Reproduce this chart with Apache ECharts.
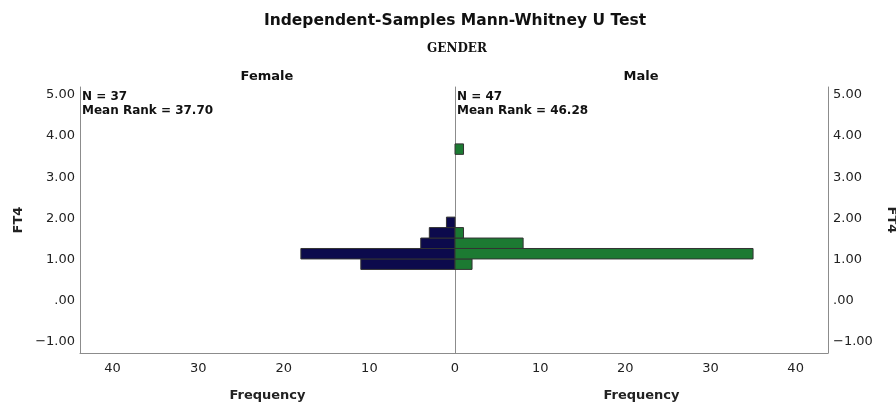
<!DOCTYPE html>
<html>
<head>
<meta charset="utf-8">
<script src="https://cdn.jsdelivr.net/npm/echarts@6/dist/echarts.min.js"></script>
<style>
  html, body { margin: 0; padding: 0; background: #fff; }
  #chart { width: 896px; height: 403px; }
</style>
</head>
<body>
<div id="chart"></div>
<script>
// histogram bins of FT4 (lower edges, last value is the upper edge of the last bin)
var binEdges = [0.76, 1.014, 1.268, 1.522, 1.776, 2.03, 2.284, 2.538, 2.792, 3.046, 3.3, 3.554, 3.808];
var femaleCounts = [11, 18, 4, 3, 1, 0, 0, 0, 0, 0, 0, 0];
var maleCounts = [2, 35, 8, 1, 0, 0, 0, 0, 0, 0, 0, 1];
var yTicks = [-1, 0, 1, 2, 3, 4, 5];
var xTicks = [0, 10, 20, 30, 40];
var groups = ['Female', 'Male'];
var groupStats = [
  ['N = 37', 'Mean Rank = 37.70'],
  ['N = 47', 'Mean Rank = 46.28']
];

var font = 'DejaVu Sans';
var axisGray = '#8c8c8c';

function binData(counts) {
  var out = [];
  counts.forEach(function (c, i) {
    if (c > 0) out.push([binEdges[i], binEdges[i + 1], c]);
  });
  return out;
}

function fmtY(v) {
  if (v === 0) return '.00';
  if (v < 0) return '\u2212' + Math.abs(v).toFixed(2);
  return v.toFixed(2);
}

function renderBar(color) {
  return function (params, api) {
    var p0 = api.coord([0, api.value(0)]);
    var p1 = api.coord([api.value(2), api.value(1)]);
    return {
      type: 'rect',
      shape: {
        x: Math.min(p0[0], p1[0]),
        y: Math.min(p0[1], p1[1]),
        width: Math.abs(p1[0] - p0[0]),
        height: Math.abs(p1[1] - p0[1])
      },
      style: { fill: color, stroke: '#333333', lineWidth: 1 }
    };
  };
}

var yBase = {
  type: 'value',
  min: -1.27,
  max: 5.19,
  splitLine: { show: false },
  axisTick: { show: false },
  axisLine: { show: true, onZero: false, lineStyle: { color: axisGray, width: 1 } }
};

function xAxisFor(gridIndex, inverse) {
  return {
    type: 'value',
    gridIndex: gridIndex,
    min: 0,
    max: 43.8,
    inverse: inverse,
    splitLine: { show: false },
    axisTick: { show: false },
    axisLine: { show: true, onZero: false, lineStyle: { color: axisGray, width: 1 } },
    axisLabel: {
      customValues: inverse ? xTicks.slice(1) : xTicks,
      color: '#222', fontFamily: font, fontSize: 13, margin: 9
    },
    name: 'Frequency',
    nameLocation: 'middle',
    nameGap: 36,
    nameTextStyle: { color: '#222', fontFamily: font, fontSize: 13, fontWeight: 'bold' }
  };
}

function titleText(text, left, top, size, family) {
  return {
    text: text, left: left, top: top, textAlign: 'center', padding: 0,
    textStyle: { fontFamily: family || font, fontSize: size, fontWeight: 'bold', color: '#111' }
  };
}

var chart = echarts.init(document.getElementById('chart'));
var option = {
  backgroundColor: '#ffffff',
  animation: false,
  title: [
    titleText('Independent-Samples Mann-Whitney U Test', 455, 13, 15.5),
    titleText('GENDER', 457, 43, 12, 'DejaVu Serif'),
    titleText(groups[0], 267, 70, 13),
    titleText(groups[1], 641, 70, 13)
  ],
  grid: [
    { left: 80, top: 87, width: 375, height: 266, outerBoundsMode: 'none' },
    { left: 455, top: 87, width: 373, height: 266, outerBoundsMode: 'none' }
  ],
  xAxis: [xAxisFor(0, true), xAxisFor(1, false)],
  yAxis: [
    Object.assign({}, yBase, {
      gridIndex: 0, position: 'left',
      axisLabel: { customValues: yTicks, formatter: fmtY, color: '#222', fontFamily: font, fontSize: 13, margin: 5 },
      name: 'FT4', nameLocation: 'middle', nameRotate: 90, nameGap: 55,
      nameTextStyle: { color: '#222', fontFamily: font, fontSize: 13, fontWeight: 'bold' }
    }),
    Object.assign({}, yBase, {
      gridIndex: 0, position: 'right',
      axisLabel: { show: false }
    }),
    Object.assign({}, yBase, {
      gridIndex: 1, position: 'right',
      axisLabel: { customValues: yTicks, formatter: fmtY, color: '#222', fontFamily: font, fontSize: 13, margin: 5 },
      name: 'FT4', nameLocation: 'middle', nameRotate: -90, nameGap: 57,
      nameTextStyle: { color: '#222', fontFamily: font, fontSize: 13, fontWeight: 'bold' }
    })
  ],
  graphic: [
    { type: 'text', left: 82, top: 90, style: { text: groupStats[0].join('\n'), font: 'bold 12px "DejaVu Sans"', fill: '#111', lineHeight: 14 } },
    { type: 'text', left: 457, top: 90, style: { text: groupStats[1].join('\n'), font: 'bold 12px "DejaVu Sans"', fill: '#111', lineHeight: 14 } }
  ],
  series: [
    {
      name: groups[0], type: 'custom', xAxisIndex: 0, yAxisIndex: 0,
      renderItem: renderBar('#0c0a4c'),
      data: binData(femaleCounts)
    },
    {
      name: groups[1], type: 'custom', xAxisIndex: 1, yAxisIndex: 2,
      renderItem: renderBar('#1c7a32'),
      data: binData(maleCounts)
    }
  ]
};
chart.setOption(option);
</script>
</body>
</html>
